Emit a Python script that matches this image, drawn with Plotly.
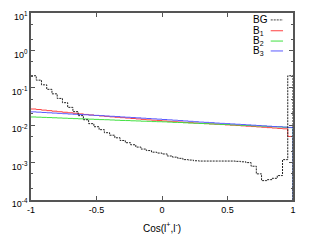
import plotly.graph_objects as go

# bin edges: 50 bins of width 0.04 from -1 to 1
bin_lo = [round(-1 + 0.04 * i, 2) for i in range(50)]
edges = bin_lo + [1.0]

bg = [0.21, 0.16, 0.12, 0.091, 0.069, 0.052, 0.040, 0.030, 0.023, 0.018,
      0.014, 0.011, 0.0091, 0.0076, 0.0063, 0.0054, 0.0046, 0.0039, 0.0034, 0.0030,
      0.0026, 0.0023, 0.0021, 0.0019, 0.0018, 0.0017, 0.0015, 0.0014, 0.0013, 0.0012,
      0.00117, 0.00112, 0.0011, 0.0011, 0.0011, 0.0011, 0.0011, 0.0011, 0.0011, 0.00108,
      0.00105, 0.0010, 0.0008, 0.0005, 0.00033, 0.00035, 0.00038, 0.00045, 0.0012, 0.21]

b1 = [0.0271, 0.0262, 0.0253, 0.0245, 0.0237, 0.0229, 0.0222, 0.0215, 0.0208, 0.0201,
      0.0194, 0.0188, 0.0182, 0.0177, 0.0172, 0.0167, 0.0163, 0.0159, 0.0155, 0.0151,
      0.0147, 0.0143, 0.0139, 0.0136, 0.0133, 0.0130, 0.0127, 0.0124, 0.0122, 0.0119,
      0.0117, 0.0114, 0.0112, 0.0110, 0.0108, 0.0106, 0.0104, 0.0102, 0.0100, 0.0098,
      0.0096, 0.0094, 0.0092, 0.0090, 0.0088, 0.0086, 0.0084, 0.0082, 0.0080, 0.0050]

b2 = [0.0166, 0.0164, 0.0162, 0.0160, 0.0158, 0.0156, 0.0154, 0.0152, 0.0150, 0.0148,
      0.0147, 0.0145, 0.0143, 0.0141, 0.0140, 0.0138, 0.0136, 0.0134, 0.0133, 0.0131,
      0.0130, 0.0128, 0.0127, 0.0125, 0.0124, 0.0123, 0.0121, 0.0119, 0.0118, 0.0116,
      0.0114, 0.0113, 0.0111, 0.0110, 0.0108, 0.0107, 0.0105, 0.0104, 0.0102, 0.0101,
      0.0099, 0.0098, 0.0096, 0.0095, 0.0094, 0.0092, 0.0091, 0.0090, 0.0088, 0.0086]

b3 = [0.0227, 0.0223, 0.0219, 0.0215, 0.0211, 0.0207, 0.0203, 0.0199, 0.0196, 0.0193,
      0.0190, 0.0186, 0.0183, 0.0180, 0.0176, 0.0173, 0.0170, 0.0166, 0.0163, 0.0160,
      0.0157, 0.0154, 0.0151, 0.0148, 0.0145, 0.0142, 0.0139, 0.0136, 0.0133, 0.0130,
      0.0127, 0.0124, 0.0121, 0.0119, 0.0117, 0.0114, 0.0112, 0.0110, 0.0108, 0.0106,
      0.0104, 0.0102, 0.0100, 0.0098, 0.0096, 0.0094, 0.0092, 0.0091, 0.0089, 0.0087]

floor_val = 1e-6  # histogram closes down to the axis at x = 1

series = [
    ("B<sub>1</sub>", b1, "#ff4040", "solid"),
    ("B<sub>2</sub>", b2, "#40e040", "solid"),
    ("B<sub>3</sub>", b3, "#5a5aff", "solid"),
    ("BG", bg, "#222222", "2px,1px"),
]

y_ticks = [10, 1, 0.1, 0.01, 0.001, 0.0001]
y_ticktext = ["10<sup>1</sup>", "10<sup>0</sup>", "10<sup>-1</sup>", "10<sup>-2</sup>",
              "10<sup>-3</sup>", "10<sup>-4</sup>"]
x_ticks = [-1, -0.5, 0, 0.5, 1]
x_ticktext = ["-1", "-0.5", "0", "0.5", "1"]

fig = go.Figure()
for name, vals, col, dash in series:
    fig.add_trace(go.Scatter(
        x=edges + [1.0], y=vals + [vals[-1], floor_val],
        mode="lines", line=dict(color=col, width=1, dash=dash, shape="hv"),
        name=name, showlegend=False))

# manual gnuplot-style key: text left, sample right
key = [("BG", "#444444", "2px,1px", 0.963), ("B<sub>1</sub>", "#ff4040", "solid", 0.905),
       ("B<sub>2</sub>", "#40e040", "solid", 0.850), ("B<sub>3</sub>", "#5a5aff", "solid", 0.797)]
for txt, col, dash, yy in key:
    fig.add_annotation(x=0.838, y=yy, xref="paper", yref="paper", text=txt,
                       showarrow=False, xanchor="left", yanchor="middle",
                       font=dict(size=10, color="#000"))
    fig.add_shape(type="line", xref="paper", yref="paper", x0=0.915, x1=0.962,
                  y0=yy, y1=yy, line=dict(color=col, width=1, dash=dash))

axis_common = dict(showline=True, linecolor="#555555", linewidth=1.5, mirror="ticks",
                   ticks="inside", tickcolor="#555555", ticklen=4, showgrid=False,
                   zeroline=False, automargin=False, ticklabeloverflow="allow",
                   tickfont=dict(size=9, color="#000"))

fig.update_xaxes(range=[-1, 1], tickvals=x_ticks, ticktext=x_ticktext,
                 title=dict(text="Cos(l<sup>+</sup>,l<sup>-</sup>)", font=dict(size=10, color="#000"),
                            standoff=11),
                 **axis_common)
fig.update_yaxes(type="log", range=[-4, 1], tickvals=y_ticks, ticktext=y_ticktext,
                 ticklabelshift=4,
                 minor=dict(ticks="inside", ticklen=2, tickcolor="#555555",
                            tickvals=[0.5, 0.2, 0.05, 0.02, 0.005, 0.002, 0.0005, 0.0002, 5, 2]),
                 **axis_common)

# page body has an 8px margin, so the figure is shifted by 8px right and down
fig.update_layout(width=303, height=237, margin=dict(l=23, r=18, t=5, b=45),
                  plot_bgcolor="white", paper_bgcolor="white",
                  font=dict(family="Liberation Sans, Arial, sans-serif", color="#000"))

fig.write_html("out.html")
